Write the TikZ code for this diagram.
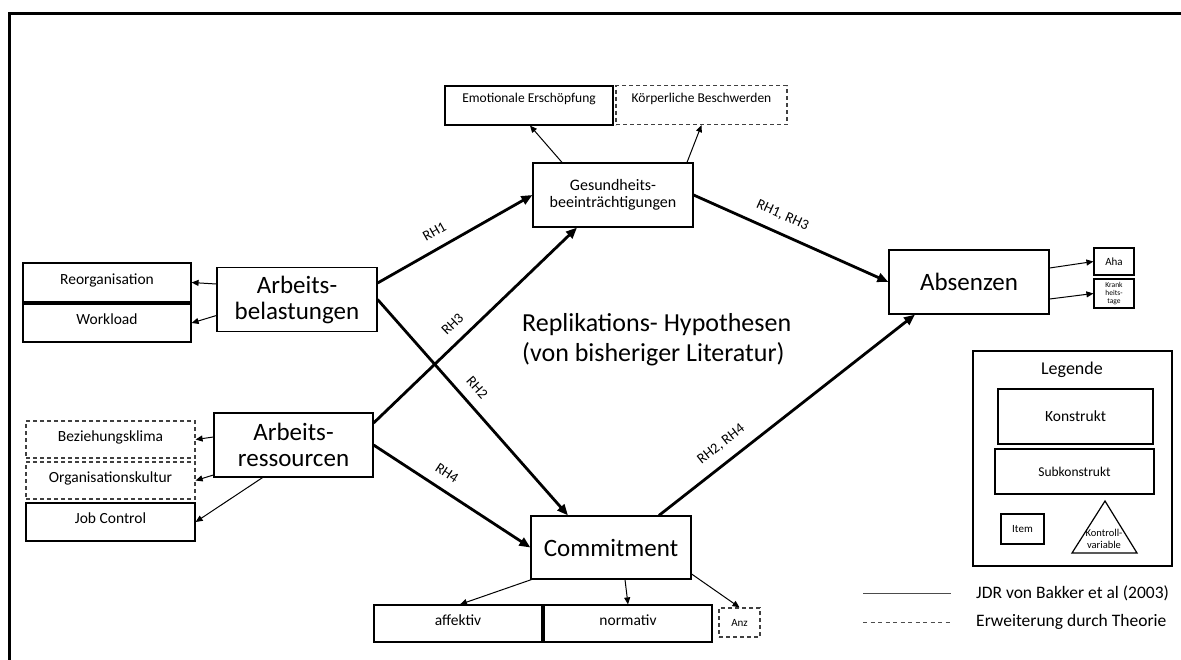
\documentclass[tikz,border=0pt]{standalone}
\usepackage{fontspec}
\setmainfont{Carlito}
\usetikzlibrary{arrows.meta}
\newcommand\setfs[2]{\fontsize{#1}{#2}\selectfont}

\begin{document}
\begin{tikzpicture}[x=1pt,y=-1pt,
  box/.style={draw=black, line width=1.2pt, inner sep=0pt, align=center},
  dbox/.style={box, draw=black!75, dash pattern=on 4pt off 3pt},
  bigbox/.style={box, minimum width=160, minimum height=64, font=\setfs{25}{26}},
  subbox/.style={minimum width=168, minimum height=38, font=\setfs{15.5}{18}, text height=10pt, text depth=7pt},
  topbox/.style={font=\setfs{13.5}{16}, text height=16.5pt, text depth=22.5pt},
  rh/.style={line width=2.8pt, -{Triangle[length=11pt,width=9pt]}},
  ln/.style={line width=1pt, -{Triangle[length=7pt,width=6pt]}},
  lab/.style={sloped, above, inner ysep=10.5pt, inner xsep=1pt, font=\setfs{14.5}{15}},
]
\useasboundingbox (0,0) rectangle (1181,659);

% outer frame
\draw[line width=3pt] (9,665) -- (9,13) -- (1190,13);

% constructs
\node[bigbox] (belast) at (297,299.5) {Arbeits-\\belastungen};
\node[bigbox, minimum width=159] (ress) at (293.5,445) {Arbeits-\\ressourcen};
\node[bigbox, font=\setfs{16}{16.5}] (ges) at (613,195) {Gesundheits-\\beeinträchtigungen};
\node[bigbox] (abs) at (969,282) {Absenzen};
\node[bigbox, minimum height=63] (comm) at (611,547.5) {Commitment};

% sub-constructs
\node[box, topbox, minimum width=168] (emo) at (529,105.5) {Emotionale Erschöpfung};
\node[dbox, topbox, minimum width=171] (koerp) at (701.5,105) {Körperliche Beschwerden};
\node[box, subbox, minimum height=39] (reorg) at (107,282.5) {Reorganisation};
\node[box, subbox] (work) at (107,323) {Workload};
\node[dbox, subbox, minimum width=169, minimum height=37] (bez) at (110.5,439.5) {Beziehungsklima};
\node[dbox, subbox, minimum width=169, minimum height=37] (org) at (110.5,480.5) {Organisationskultur};
\node[box, subbox, minimum width=169] (job) at (110.5,522) {Job Control};
\node[box, subbox, minimum height=37] (aff) at (458,623.5) {affektiv};
\node[box, subbox, minimum height=37] (norm) at (628,623.5) {normativ};

% items
\node[box, minimum width=40, minimum height=27, font=\setfs{11}{12}] (aha) at (1114,261.5) {Aha};
\node[box, minimum width=40, minimum height=29, font=\setfs{7.5}{8}] (krank) at (1114,293.5) {Krank\\heits-\\tage};
\node[dbox, minimum width=41, minimum height=29, font=\setfs{11}{12}] (anz) at (739.5,622.5) {Anz};

% hypotheses
\draw[rh] ([yshift=16.5pt]belast.east) -- node[lab, pos=0.42] {RH1} (ges.west);
\draw[rh] (belast.east) -- node[lab, pos=0.458] {RH2} ([xshift=-43pt]comm.north);
\draw[rh] ([yshift=22pt]ress.east) -- node[lab, pos=0.444] {RH3} ([xshift=-36pt]ges.south);
\draw[rh] (ress.east) -- node[lab, pos=0.41] {RH4} (comm.west);
\draw[rh] (ges.east) -- node[lab, pos=0.42] {RH1, RH3} (abs.west);
\draw[rh] ([xshift=48pt]comm.north) -- node[lab, pos=0.285] {RH2, RH4} ([xshift=-54pt]abs.south);

% measurement arrows
\draw[ln] ([yshift=15.5pt]belast.west) -- (reorg.east);
\draw[ln] ([yshift=-16pt]belast.west) -- (work.east);
\draw[ln] ([yshift=8pt]ress.west) -- (bez.east);
\draw[ln] ([yshift=-30pt]ress.west) -- (org.east);
\draw[ln] ([xshift=-31pt]ress.south) -- (job.east);
\draw[ln] ([xshift=-51pt]ges.north) -- ([xshift=1pt]emo.south);
\draw[ln] ([xshift=74pt]ges.north) -- (koerp.south);
\draw[ln] ([yshift=14pt]abs.east) -- (aha.west);
\draw[ln] ([yshift=-17pt]abs.east) -- (krank.west);
\draw[ln] ([xshift=1pt]comm.south west) -- ([xshift=2pt]aff.north);
\draw[ln] ([xshift=14pt]comm.south) -- (norm.north);
\draw[ln] ([yshift=-26.5pt]comm.east) -- (anz.north);

% central caption
\node[anchor=west, align=left, inner sep=0pt, font=\setfs{26}{30}] (title) at (522,340)
  {Replikations- Hypothesen\\(von bisheriger Literatur)};

% legend
\node[box, line width=1.4pt, minimum width=199, minimum height=215] (legend) at (1072.5,458.5) {};
\node[font=\setfs{18}{20}] (legtitle) at (1072,370) {Legende};
\node[box, minimum width=155, minimum height=55, font=\setfs{15.5}{18}] (lkon) at (1075.5,416.5) {Konstrukt};
\node[box, minimum width=159, minimum height=45, font=\setfs{13.5}{16}] (lsub) at (1074.5,471.5) {Subkonstrukt};
\node[box, minimum width=43, minimum height=30, font=\setfs{11}{12}] (litem) at (1022.5,529) {Item};
\draw[line width=1.2pt] (1105,501) -- (1137,553) -- (1072,553) -- cycle;
\node[align=center, inner sep=0pt, font=\setfs{10.5}{12}] (lkv) at (1104,539) {Kontroll-\\variable};

\coordinate (solA) at (863,593);
\coordinate (solB) at (951,593);
\coordinate (dasA) at (863,622);
\coordinate (dasB) at (951,622);
\draw[line width=1pt, black!70] (solA) -- (solB);
\draw[line width=1pt, black!70, dash pattern=on 4pt off 3.5pt] (dasA) -- (dasB);
\node[anchor=west, inner sep=0pt, font=\setfs{17.5}{20}] (ljdr) at (976,593) {JDR von Bakker et al (2003)};
\node[anchor=west, inner sep=0pt, font=\setfs{17.5}{20}] (lerw) at (976,622) {Erweiterung durch Theorie};
\end{tikzpicture}
\end{document}
